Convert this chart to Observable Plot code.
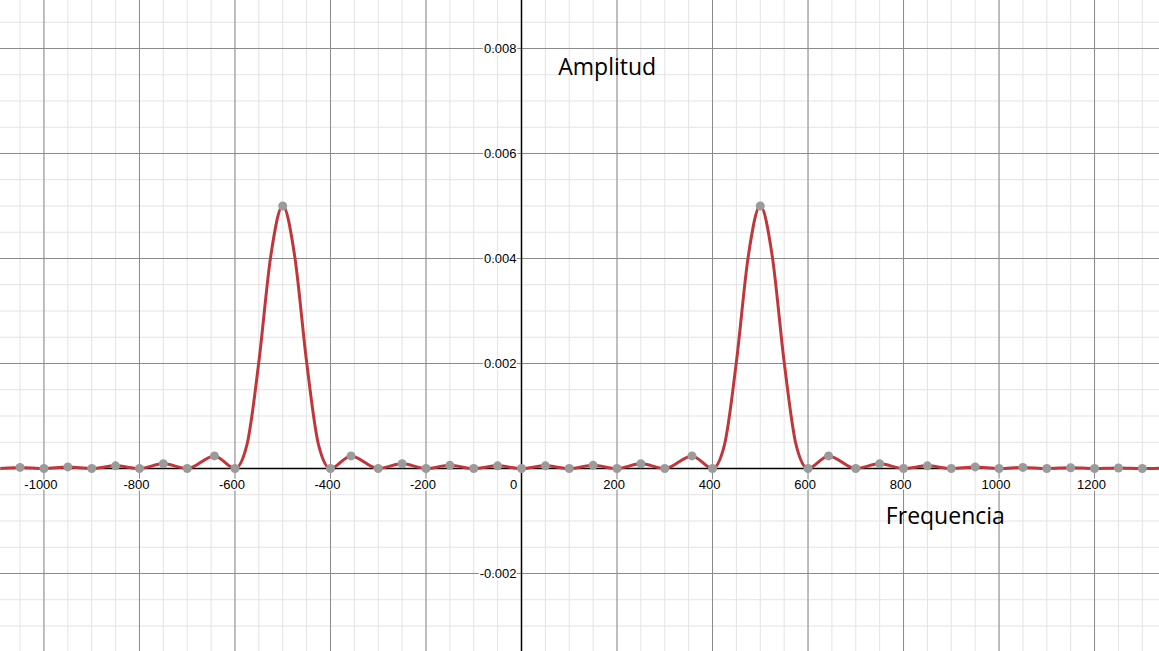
<!DOCTYPE html>
<html>
<head>
<meta charset="utf-8">
<script src="https://cdn.jsdelivr.net/npm/d3@7"></script>
<script src="https://cdn.jsdelivr.net/npm/@observablehq/plot@0.6"></script>
<style>
  body { margin: 0; background: #fff; }
</style>
</head>
<body>
<div id="chart"></div>
<script>
// valores (lado positivo, el negativo es espejo)
const frecPos = [0, 50, 100, 150, 200, 250, 300, 357, 400, 425, 450, 475, 500, 525, 550, 575, 600, 643, 700, 750, 800, 850, 900, 950, 1000, 1050, 1100, 1150, 1200, 1250, 1300, 1350]
const ampPos = [0, 0.00005, 0, 0.00006, 0, 0.00009, 0, 0.00024, 0, 0.00045, 0.00203, 0.00405, 0.005, 0.00405, 0.00203, 0.00045, 0, 0.00024, 0, 0.00009, 0, 0.00005, 0, 0.00003, 0, 0.00002, 0, 0.000015, 0, 0.00001, 0, 0.00001]
// puntos sin marcador (flancos del lobulo principal)
const sinPunto = [425, 450, 475, 525, 550, 575]

const xMayor = [-1000, -800, -600, -400, -200, 200, 400, 600, 800, 1000, 1200]
const yMayor = [-0.002, 0.002, 0.004, 0.006, 0.008]
const yEtiquetas = ['-0.002', '0.002', '0.004', '0.006', '0.008']

const datos = []
frecPos.forEach((f, i) => { if (f > 0) datos.push({f: -f, a: ampPos[i]}) })
frecPos.forEach((f, i) => datos.push({f, a: ampPos[i]}))
datos.sort((p, q) => p.f - q.f)
const puntos = datos.filter(d => !sinPunto.includes(Math.abs(d.f)))

const xMenor = d3.range(-1100, 1351, 50)
const yMenor = d3.range(-0.0035, 0.0091, 0.0005)

let chart = Plot.plot({
  width: 1159,
  height: 651,
  margin: 0,
  x: {domain: [-1091, 1336], axis: null},
  y: {domain: [-0.003486, 0.008914], axis: null},
  style: {fontFamily: 'Liberation Sans, Arial, sans-serif', background: '#fff'},
  marks: [
    Plot.ruleX(xMenor, {stroke: '#e3e3e3', strokeWidth: 1}),
    Plot.ruleY(yMenor, {stroke: '#e3e3e3', strokeWidth: 1}),
    Plot.ruleX(xMayor, {stroke: '#8a8a8a', strokeWidth: 1}),
    Plot.ruleY(yMayor, {stroke: '#8a8a8a', strokeWidth: 1}),
    Plot.ruleX([0], {stroke: '#000', strokeWidth: 1.5}),
    Plot.ruleY([0], {stroke: '#000', strokeWidth: 1.5}),
    Plot.text(xMayor, {x: d => d, y: 0, text: d => String(d), dy: 16, dx: -3, fontSize: 13, fill: '#000', stroke: '#fff', strokeWidth: 3}),
    Plot.text([0], {x: 0, y: 0, text: ['0'], dy: 16, dx: -8, fontSize: 13, fill: '#000'}),
    Plot.text(yMayor, {x: 0, y: d => d, text: (d, i) => yEtiquetas[i], dx: -5, textAnchor: 'end', fontSize: 13, fill: '#000', stroke: '#fff', strokeWidth: 3}),
    Plot.line(datos, {x: 'f', y: 'a', stroke: '#c0363a', strokeWidth: 3, curve: 'monotone-x'}),
    Plot.dot(puntos, {x: 'f', y: 'a', r: 4.5, fill: '#9b9b9b'}),
    Plot.text(['Amplitud'], {x: 77, y: 0.00764, text: d => d, textAnchor: 'start', fontSize: 23, fontFamily: 'Open Sans', fill: '#000'}),
    Plot.text(['Frequencia'], {x: 763, y: -0.00092, text: d => d, textAnchor: 'start', fontSize: 23, fontFamily: 'Open Sans', fill: '#000'})
  ]
})
d3.select('#chart').append(() => chart)
</script>
</body>
</html>
